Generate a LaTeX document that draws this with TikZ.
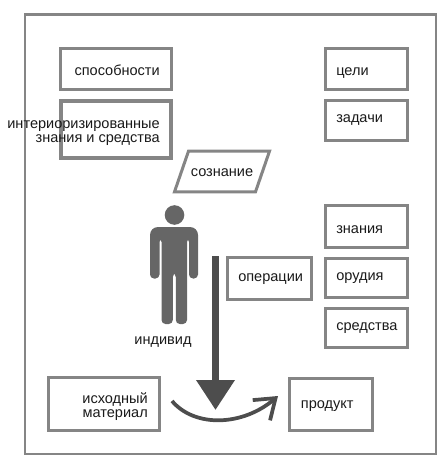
\documentclass[tikz,border=0pt]{standalone}
\usepackage{fontspec}
\setmainfont{Liberation Sans}
\usepackage{xcolor}
\usetikzlibrary{arrows.meta,positioning,shapes.geometric}
\definecolor{bxgray}{HTML}{858585}
\definecolor{mangray}{HTML}{666666}
\definecolor{arrink}{HTML}{4D4D4D}
\definecolor{txink}{HTML}{1A1A1A}
\tikzset{
  box/.style={draw=bxgray,fill=white,line width=2.25pt,inner sep=0pt,minimum width=61.5pt,minimum height=30.75pt},
  widebox/.style={box,minimum width=83.25pt},
  lbl/.style={inner sep=0pt,font=\fontsize{10.9}{10.5}\selectfont,text=txink},
  proc/.style={-{Triangle[length=22.5pt,width=27.75pt]},line width=5.25pt,color=arrink},
  flow/.style={-{Straight Barb[length=14pt,width=20pt]},line width=2.8pt,color=arrink},
}
\begin{document}
\begin{tikzpicture}[x=.75pt,y=-.75pt]
\useasboundingbox (0,0) rectangle (442,466);
\draw[bxgray,line width=1.6pt] (25,14.5) rectangle (436,454);
% left column
\node[widebox] (sposob) at (116,69) {};
\node[widebox,line width=3pt,minimum width=82.5pt,minimum height=42.75pt,below=6pt of sposob] (interior) {};
% right column
\node[box] (celi) at (366.5,69) {};
\node[box,minimum height=30pt,below=6pt of celi] (zadachi) {};
\node[box,minimum height=31.5pt] (znaniya) at (366.5,226.5) {};
\node[box,minimum height=29.25pt,below=6pt of znaniya] (orudiya) {};
\node[box,minimum height=29.25pt,below=6pt of orudiya] (sredstva) {};
% middle
\node[box,minimum width=63pt,minimum height=31.5pt] (oper) at (269.5,278.5) {};
\node[draw=bxgray,fill=white,line width=2.25pt,trapezium,trapezium left angle=71,trapezium right angle=109,lbl,inner xsep=1.75pt,inner ysep=9.5pt,text height=9.5pt,text depth=2pt] (soznanie) at (222,171.5) {сознание};
% bottom row
\node[widebox,minimum height=39.75pt] (ishod) at (104,404) {};
\node[box,minimum width=62.25pt,minimum height=39pt] (produkt) at (331,404.5) {};
% texts
\node[lbl,anchor=east] (sposobt) at ([xshift=-9.75pt,yshift=-1pt]sposob.east) {способности};
\node[lbl,anchor=east,align=right] (interiort) at ([xshift=-9.75pt,yshift=-2.8pt]interior.east) {интериоризированные\\знания и средства};
\node[lbl,anchor=west] (celit) at ([xshift=9pt,yshift=-3.4pt]celi.west) {цели};
\node[lbl,anchor=west] (zadachit) at ([xshift=9pt,yshift=0pt]zadachi.west) {задачи};
\node[lbl,anchor=west] (znaniyat) at ([xshift=9pt,yshift=-2.3pt]znaniya.west) {знания};
\node[lbl,anchor=west] (orudiyat) at ([xshift=9pt,yshift=-.2pt]orudiya.west) {орудия};
\node[lbl,anchor=west] (sredstvat) at ([xshift=9pt,yshift=-.3pt]sredstva.west) {средства};
\node[lbl,anchor=west] (opert) at ([xshift=9pt,yshift=-.4pt]oper.west) {операции};
\node[lbl,anchor=east,align=right] (ishodt) at ([xshift=-9.75pt,yshift=-2pt]ishod.east) {исходный\\материал};
\node[lbl,anchor=west] (produktt) at ([xshift=9.5pt,yshift=-1pt]produkt.west) {продукт};
\node[lbl] (individ) at (163,342) {индивид};
% figure
\fill[mangray] (174.5,215) circle (9.8);
\fill[mangray] [rounded corners=6pt] (150,250)--(150,227)--(198,227)--(198,250)
  [rounded corners=3pt] --(198,278.5)--(189,278.5)--(189,238)--(187,238)
  --(187,324)--(175.8,324)--(175.8,273)--(172.8,273)--(172.8,324)--(161.5,324)
  --(161.5,238)--(159.5,238)--(159.5,278.5)--(150,278.5)--cycle;
% arrows
\coordinate (procA) at (215.5,256);
\coordinate (procB) at (215.5,410);
\coordinate (flowA) at (172,401);
\coordinate (flowB) at (278,396);
\draw[flow] (flowA) .. controls (195,428) and (243,426) .. (flowB);
\draw[proc] (procA) -- (procB);
\end{tikzpicture}
\end{document}
